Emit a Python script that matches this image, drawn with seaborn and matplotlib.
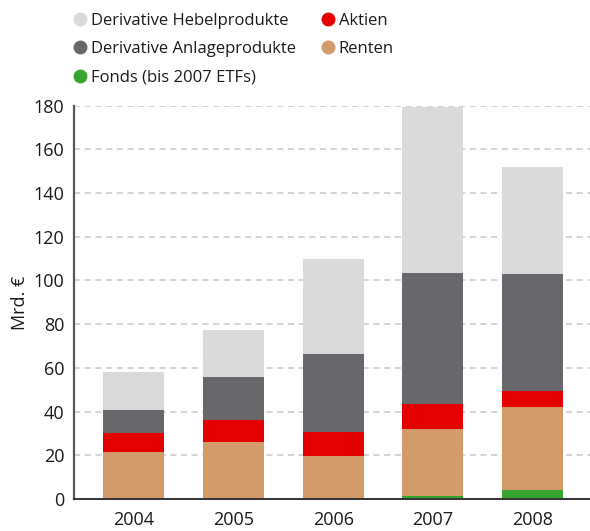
import numpy as np
import pandas as pd
import seaborn as sns
import matplotlib.pyplot as plt
from matplotlib.lines import Line2D

# data (Mrd. EUR)
years = ["2004", "2005", "2006", "2007", "2008"]
fonds = [0.0, 0.0, 0.0, 1.5, 3.9]
renten = [21.4, 26.2, 19.7, 30.4, 38.0]
aktien = [8.7, 10.0, 10.9, 11.4, 7.7]
anlage = [10.5, 19.6, 35.9, 60.2, 53.4]
hebel = [17.5, 21.7, 43.1, 76.0, 49.1]

labels = ["Derivative Hebelprodukte", "Derivative Anlageprodukte",
          "Fonds (bis 2007 ETFs)", "Aktien", "Renten"]
colors = {"Fonds (bis 2007 ETFs)": "#36a52f", "Renten": "#d39a6c",
          "Aktien": "#e50000", "Derivative Anlageprodukte": "#68676b",
          "Derivative Hebelprodukte": "#d9dadb"}

sns.set_style("white")
plt.rcParams["font.family"] = ["Open Sans", "DejaVu Sans"]

df = pd.DataFrame({"year": years, "Fonds (bis 2007 ETFs)": fonds, "Renten": renten,
                   "Aktien": aktien, "Derivative Anlageprodukte": anlage,
                   "Derivative Hebelprodukte": hebel})
stack = ["Fonds (bis 2007 ETFs)", "Renten", "Aktien",
         "Derivative Anlageprodukte", "Derivative Hebelprodukte"]
cum = df[stack].cumsum(axis=1)

fig = plt.figure(figsize=(5.9, 5.31), dpi=100)
ax = fig.add_axes([0.1254, 0.0603, 0.8746, 0.7407])
ax.set_axisbelow(True)

# draw cumulative totals from the top down so each layer sits on the one below
for name in reversed(stack):
    sns.barplot(x=df["year"], y=cum[name], color=colors[name], saturation=1,
                width=0.61, linewidth=0, ax=ax)

ax.set_ylim(0, 180)
ax.set_xlim(-0.6, 4.576)
ax.set_yticks(np.arange(0, 181, 20))
ax.grid(axis="y", color="#c8c8c8", linestyle=(0, (4, 3)), linewidth=1.1)
ax.grid(axis="x", visible=False)
for s in ["top", "right"]:
    ax.spines[s].set_visible(False)
ax.spines["left"].set_color("#5a5a5a")
ax.spines["left"].set_linewidth(1.6)
ax.spines["bottom"].set_color("#333333")
ax.spines["bottom"].set_linewidth(1.4)
ax.tick_params(axis="y", direction="in", length=9, width=1.6, color="#5a5a5a",
               labelsize=13, pad=7, labelcolor="#1a1a1a")
ax.tick_params(axis="x", length=0, labelsize=13, pad=9, labelcolor="#1a1a1a")
ax.set_xlabel("")
ax.set_ylabel("Mrd. €", fontsize=13, color="#1a1a1a", labelpad=3)

handles = [Line2D([], [], marker="o", linestyle="", markersize=9,
                  markerfacecolor=colors[l], markeredgecolor=colors[l]) for l in labels]
fig.legend(handles, labels, ncol=2, loc="upper left", bbox_to_anchor=(0.095, 1.004),
           frameon=False, fontsize=12, handletextpad=0.1, columnspacing=1.35,
           labelspacing=0.74, handlelength=1.1, labelcolor="#1a1a1a")

fig.savefig("out.png", dpi=100)
